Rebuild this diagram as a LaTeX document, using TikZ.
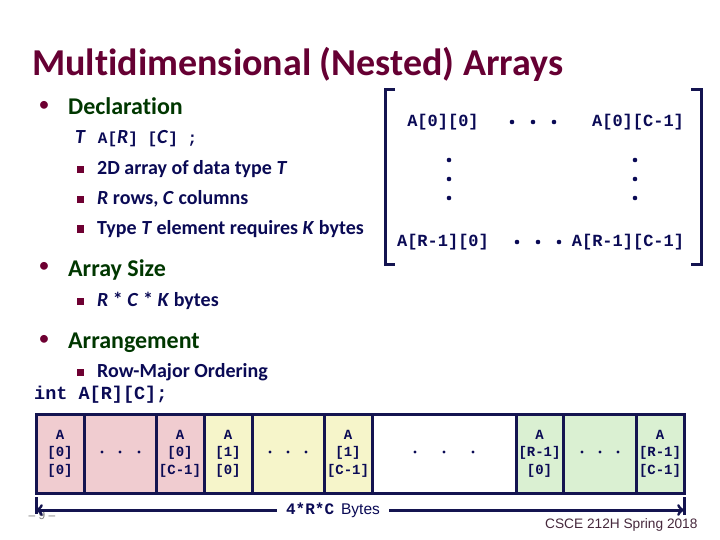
\documentclass[tikz,border=0pt]{standalone}
\usepackage{fontspec}
\setmainfont[Ligatures=NoCommon]{Carlito}
\setmonofont{Liberation Mono}
\newfontfamily\footfont{Liberation Sans}
\usepackage{tikz}
\usetikzlibrary{positioning,arrows}

\definecolor{titlecol}{RGB}{102,0,51}
\definecolor{headcol}{RGB}{0,55,0}
\definecolor{navytext}{RGB}{10,10,85}
\definecolor{bulletcol}{RGB}{110,0,50}
\definecolor{cellline}{RGB}{20,20,80}
\definecolor{pinkfill}{RGB}{240,204,208}
\definecolor{yellowfill}{RGB}{246,245,202}
\definecolor{greenfill}{RGB}{218,240,210}
\definecolor{footcol}{RGB}{70,40,60}

\newcommand{\mono}[1]{{\ttfamily\fontsize{16}{18}\selectfont #1}}

\tikzset{
  heading/.style={anchor=base west, inner sep=0pt, text=headcol, font=\fontsize{24}{28}\selectfont\bfseries},
  bigbullet/.style={inner sep=0pt, text=bulletcol, font=\fontsize{22}{24}\selectfont},
  subitem/.style={anchor=base west, inner sep=0pt, text=navytext, font=\fontsize{20}{24}\selectfont\bfseries},
  sqbullet/.style={fill=bulletcol, inner sep=0pt, minimum size=7pt},
  entry/.style={anchor=base, inner sep=0pt, text=navytext, font=\ttfamily\bfseries\fontsize{17}{20}\selectfont},
  cell/.style={draw=cellline, line width=3pt, minimum height=79pt, inner sep=0pt, align=center,
    text=navytext, font=\ttfamily\bfseries\fontsize{14}{17.5}\selectfont},
}

\begin{document}
\begin{tikzpicture}[x=1pt, y=-1pt]
\useasboundingbox (0,0) rectangle (720,540);

\node[anchor=base west, inner sep=0pt, text=titlecol, font=\fontsize{38}{42}\selectfont\bfseries] (title) at (32,76) {Multidimensional (Nested) Arrays};

% declaration
\node[bigbullet] (b1) at (44,106) {•};
\node[heading] (decl) at (68,115) {Declaration};
\node[subitem] (decltype) at (75,144) {\textit{T}\hspace{12pt}\mono{A[}\textit{R}\mono{]~[}\textit{C}\mono{]~;}};
\node[sqbullet] (s1) at (80,170) {};
\node[subitem] (it1) at (97,175) {2D array of data type \textit{T}};
\node[sqbullet] (s2) at (80,200) {};
\node[subitem] (it2) at (97,205) {\textit{R} rows, \textit{C} columns};
\node[sqbullet] (s3) at (80,229) {};
\node[subitem] (it3) at (97,234) {Type \textit{T} element requires \textit{K} bytes};

% size
\node[bigbullet] (b2) at (44,267) {•};
\node[heading] (size) at (68,276) {Array Size};
\node[sqbullet] (s4) at (80,301) {};
\node[subitem] (sizeit) at (97,306) {\textit{R} * \textit{C} * \textit{K} bytes};

% arrangement
\node[bigbullet] (b3) at (44,340) {•};
\node[heading] (arr) at (68,348) {Arrangement};
\node[sqbullet] (s5) at (80,372) {};
\node[subitem] (arrit) at (97,377) {Row-Major Ordering};
\node[anchor=base west, inner sep=0pt, text=navytext, font=\ttfamily\bfseries\fontsize{18.5}{22}\selectfont] (intdecl) at (34,399) {int A[R][C];};

% matrix
\node[entry] (m00) at (443,127) {A[0][0]};
\node[entry] (m0c) at (638,127) {A[0][C-1]};
\node[entry] (mr0) at (443,247) {A[R-1][0]};
\node[entry] (mrc) at (628,247) {A[R-1][C-1]};
\foreach \x in {512,533,554} \fill[navytext] (\x,122) circle (2.3);
\foreach \x in {517,538,559} \fill[navytext] (\x,242) circle (2.3);
\foreach \y in {160,179,198} {
  \fill[navytext] (449,\y) circle (2.3);
  \fill[navytext] (635,\y) circle (2.3);
}
\draw[cellline, line width=3pt] (395,90) -- (385,90) -- (385,264) -- (395,264);
\draw[cellline, line width=3pt] (691,90) -- (701,90) -- (701,264) -- (691,264);

% memory layout
\node[cell, fill=pinkfill, minimum width=48pt] (c1) at (60,453.5) {A\\{[0]}\\{[0]}};
\node[cell, fill=pinkfill, minimum width=72pt] (c2) at (120,453.5) {};
\node[cell, fill=pinkfill, minimum width=48pt] (c3) at (180,453.5) {A\\{[0]}\\{[C-1]}};
\node[cell, fill=yellowfill, minimum width=48pt] (c4) at (228,453.5) {A\\{[1]}\\{[0]}};
\node[cell, fill=yellowfill, minimum width=72pt] (c5) at (288,453.5) {};
\node[cell, fill=yellowfill, minimum width=48pt] (c6) at (348,453.5) {A\\{[1]}\\{[C-1]}};
\node[cell, fill=white, minimum width=144pt] (c7) at (444,453.5) {};
\node[cell, fill=greenfill, minimum width=47pt] (c8) at (539.5,453.5) {A\\{[R-1]}\\{[0]}};
\node[cell, fill=greenfill, minimum width=73pt] (c9) at (599.5,453.5) {};
\node[cell, fill=greenfill, minimum width=48pt] (c10) at (660,453.5) {A\\{[R-1]}\\{[C-1]}};
\foreach \x in {102,120,139, 270,288,306, 415,444,473, 582,600,618}
  \fill[navytext] (\x,452) circle (1.7);

% footer
\node[inner sep=0pt, text=gray, font=\footfont\fontsize{12}{14}\selectfont] (pageno) at (42,515) {– 9 –};
\node[anchor=base west, inner sep=0pt, text=footcol, font=\footfont\fontsize{13.7}{16}\selectfont] (course) at (545,528) {CSCE 212H Spring 2018};

% size arrow
\node[inner sep=0pt, text=navytext] (bytes) at (333,510) {{\ttfamily\bfseries\fontsize{16}{18}\selectfont 4*R*C}\hspace{7pt}{\footfont\fontsize{15.5}{18}\selectfont Bytes}};
\coordinate (lo) at (36,510);
\coordinate (hi) at (684,510);
\draw[cellline, line width=3pt] (36,497) -- (36,514);
\draw[cellline, line width=3pt] (684,497) -- (684,515);
\draw[cellline, line width=3pt, ->] ([xshift=-9pt]bytes.west) -- (lo);
\draw[cellline, line width=3pt, ->] ([xshift=9pt]bytes.east) -- (hi);
\end{tikzpicture}
\end{document}
